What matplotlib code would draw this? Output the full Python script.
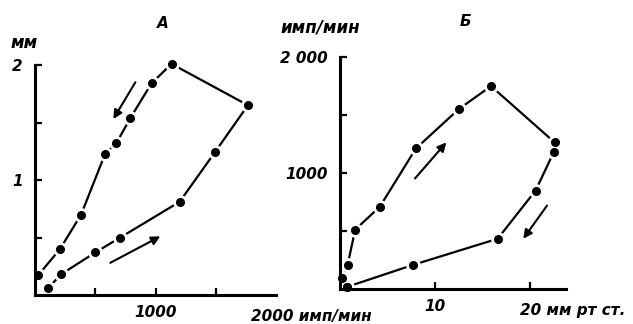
import matplotlib
matplotlib.use("Agg")
import matplotlib.pyplot as plt

# Panel A: response amplitude (mm) vs firing rate (imp/min)
a_rate = [108, 217, 500, 708, 1200, 1492, 1767, 1133, 967, 792, 675, 583, 383, 208, 25]
a_mm = [0.06, 0.18, 0.37, 0.50, 0.81, 1.24, 1.65, 2.01, 1.84, 1.54, 1.32, 1.23, 0.70, 0.40, 0.17]

# Panel B: firing rate (imp/min) vs pressure (mm Hg)
b_press = [0.7, 0.2, 0.8, 1.6, 4.2, 8.0, 12.5, 15.9, 22.6, 22.5, 20.6, 16.6, 7.7, 0.7]
b_rate = [17, 95, 208, 511, 710, 1212, 1550, 1749, 1264, 1178, 849, 433, 208, 17]

a_yticks = [0.5, 1, 1.5, 2]
a_yticklabels = ["", "1", "", "2"]
a_xticks = [500, 1000, 1500]
a_xticklabels = ["", "1000", ""]
b_yticks = [500, 1000, 1500, 2000]
b_yticklabels = ["", "1000", "", "2 000"]
b_xticks = [10, 20]
b_xticklabels = ["10", ""]

FONT = dict(family="DejaVu Sans", style="italic", weight="bold")

fig = plt.figure(figsize=(6.33, 3.24), dpi=100)
fig.patch.set_facecolor("white")

W, H = 633.0, 324.0
axA = fig.add_axes([35 / W, 1 - 295 / H, (276 - 35) / W, (295 - 65) / H])
axB = fig.add_axes([340 / W, 1 - 289 / H, (566 - 340) / W, (289 - 57) / H])


def style(ax):
    for s in ["top", "right"]:
        ax.spines[s].set_visible(False)
    for s in ["left", "bottom"]:
        ax.spines[s].set_linewidth(2.2)
        ax.spines[s].set_zorder(2.5)
    ax.tick_params(direction="in", length=5, width=1.6, labelsize=11)
    ax.tick_params(axis="y", pad=9)
    ax.tick_params(axis="x", pad=7)
    for lab in ax.get_xticklabels() + ax.get_yticklabels():
        lab.set_fontstyle("italic")
        lab.set_fontweight("bold")
    ax.set_facecolor("none")


def draw(ax, x, y):
    ax.plot(x, y, color="black", lw=1.6, zorder=2, clip_on=False, solid_capstyle="butt")
    ax.plot(x, y, ls="none", marker="o", ms=10.5, mfc="white", mec="none", zorder=2.1, clip_on=False)
    ax.plot(x, y, ls="none", marker="o", ms=5.5, mfc="black", mec="black", zorder=3, clip_on=False)


def arrow(ax, start, end):
    ax.annotate("", xy=end, xytext=start,
                arrowprops=dict(arrowstyle="-|>", color="black", lw=1.5, mutation_scale=13,
                                shrinkA=0, shrinkB=0))


# Panel A
axA.set_xlim(0, 2000)
axA.set_ylim(0, 2)
axA.set_xticks(a_xticks)
axA.set_xticklabels(a_xticklabels)
axA.set_yticks(a_yticks)
axA.set_yticklabels(a_yticklabels)
style(axA)
draw(axA, a_rate, a_mm)
arrow(axA, (833, 1.85), (650, 1.53))
arrow(axA, (625, 0.28), (1040, 0.51))
axA.text(1790, -0.06, "2000 имп/мин", transform=axA.get_xaxis_transform(),
         ha="left", va="top", fontsize=11, **FONT)

# Panel B
axB.set_xlim(0, 23.8)
axB.set_ylim(0, 2000)
axB.set_xticks(b_xticks)
axB.set_xticklabels(b_xticklabels)
axB.set_yticks(b_yticks)
axB.set_yticklabels(b_yticklabels)
style(axB)
draw(axB, b_press, b_rate)
arrow(axB, (7.9, 953), (11.2, 1264))
arrow(axB, (21.8, 719), (19.3, 433))
axB.text(19.0, -0.06, "20 мм рт ст.", transform=axB.get_xaxis_transform(),
         ha="left", va="top", fontsize=11, **FONT)

fig.text(11 / W, 1 - 43 / H, "мм", ha="left", va="center", fontsize=12, **FONT)
fig.text(280 / W, 1 - 28 / H, "имп/мин", ha="left", va="center", fontsize=12, **FONT)
fig.text(163 / W, 1 - 24 / H, "А", ha="center", va="center", fontsize=11, **FONT)
fig.text(465 / W, 1 - 22 / H, "Б", ha="center", va="center", fontsize=11, **FONT)

fig.savefig("out.png", dpi=100, facecolor="white")
